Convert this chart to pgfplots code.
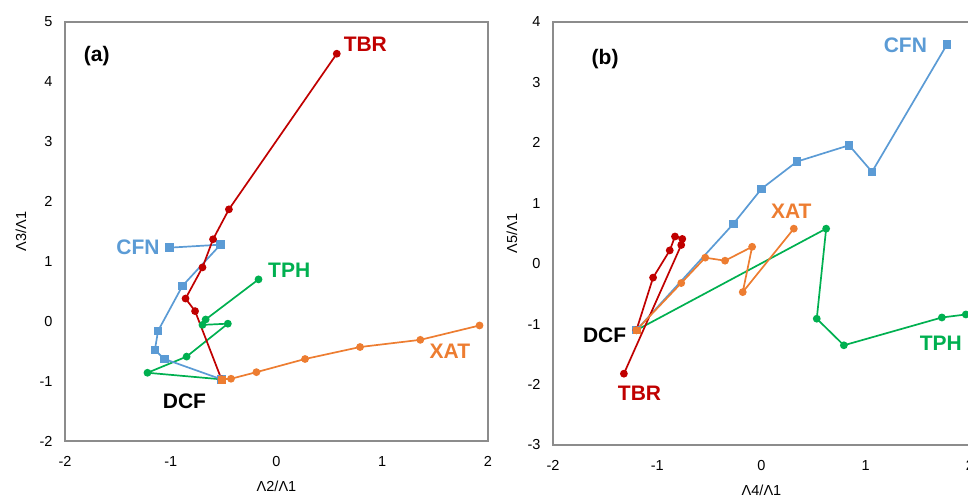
\documentclass[border=0pt]{standalone}
\usepackage{fontspec}
\setmainfont{Liberation Sans}
\usepackage{pgfplots}
\pgfplotsset{compat=1.18}

\definecolor{cfn}{HTML}{5B9BD5}
\definecolor{tbr}{HTML}{C00000}
\definecolor{tph}{HTML}{00B050}
\definecolor{xat}{HTML}{ED7D31}
\definecolor{frame}{HTML}{8C8C8C}

\pgfplotsset{
  panel/.style={
    scale only axis,
    axis line style={draw=frame, line width=1.2pt},
    major tick length=0pt,
    xmin=-2, xmax=2, xtick={-2,-1,0,1,2},
    /pgf/number format/assume math mode=true,
    tick label style={font=\fontsize{14.5}{16}\selectfont},
    xticklabel style={yshift=-12pt},
    yticklabel style={xshift=-9pt},
    label style={font=\fontsize{14.5}{16}\selectfont},
    xlabel style={at={(axis description cs:0.5,0)}, anchor=center, yshift=-45pt},
    clip=false,
  },
}
\tikzset{
  ser/.style={color=#1, line width=1.7pt, mark=*, mark size=3pt, mark options={solid, fill=#1}},
  sq/.style={color=#1, line width=1.7pt, mark=square*, mark size=3.4pt, mark options={solid, fill=#1}},
  lab/.style={font=\fontsize{21}{24}\selectfont\bfseries, text=#1},
}

\begin{document}
\begin{tikzpicture}

%%% (a) %%%
\begin{axis}[panel,
  at={(65pt,56pt)}, width=423pt, height=419pt,
  ymin=-2, ymax=5, ytick={-2,-1,0,1,2,3,4,5},
  xlabel={Λ2/Λ1}, ylabel={Λ3/Λ1},
  ylabel style={at={(axis description cs:0,0.5)}, anchor=center, yshift=44pt},
]
\addplot[ser=tph] coordinates {
  (-0.17,0.70) (-0.67,0.03) (-0.70,-0.06) (-0.46,-0.04) (-0.85,-0.59) (-1.22,-0.86) (-0.52,-0.97)
};
\addplot[sq=cfn] coordinates {
  (-1.01,1.23) (-0.53,1.28) (-0.89,0.59) (-1.12,-0.16) (-1.15,-0.48) (-1.06,-0.63) (-0.52,-0.97)
};
\addplot[ser=tbr] coordinates {
  (0.57,4.47) (-0.45,1.87) (-0.60,1.37) (-0.70,0.90) (-0.86,0.38) (-0.77,0.17) (-0.52,-0.97)
};
\addplot[ser=xat] coordinates {
  (-0.52,-0.97) (-0.43,-0.96) (-0.19,-0.85) (0.27,-0.63) (0.79,-0.43) (1.36,-0.31) (1.92,-0.07)
};
\addplot[only marks, mark=square*, mark size=3.4pt, color=xat] coordinates {(-0.52,-0.97)};

\node[lab=black] at (axis cs:-1.70,4.43) {(a)};
\node[lab=tbr] at (axis cs:0.84,4.63) {TBR};
\node[lab=cfn] at (axis cs:-1.31,1.23) {CFN};
\node[lab=tph] at (axis cs:0.12,0.86) {TPH};
\node[lab=xat] at (axis cs:1.64,-0.50) {XAT};
\node[lab=black] at (axis cs:-0.87,-1.33) {DCF};
\end{axis}

%%% (b) %%%
\begin{axis}[panel,
  at={(553pt,52pt)}, width=417pt, height=423pt,
  ymin=-3, ymax=4, ytick={-3,-2,-1,0,1,2,3,4},
  xlabel={Λ4/Λ1}, ylabel={Λ5/Λ1},
  ylabel style={at={(axis description cs:0,0.5)}, anchor=center, yshift=41pt},
]
\addplot[ser=tph] coordinates {
  (-1.20,-1.10) (0.62,0.58) (0.53,-0.91) (0.79,-1.35) (1.73,-0.89) (1.96,-0.84)
};
\addplot[sq=cfn] coordinates {
  (-1.20,-1.10) (-0.27,0.66) (0.00,1.24) (0.34,1.69) (0.84,1.96) (1.06,1.52) (1.78,3.63)
};
\addplot[ser=tbr] coordinates {
  (-1.20,-1.10) (-1.04,-0.23) (-0.88,0.22) (-0.83,0.45) (-0.76,0.41) (-0.77,0.31) (-1.32,-1.82)
};
\addplot[ser=xat] coordinates {
  (-1.20,-1.10) (-0.77,-0.32) (-0.54,0.10) (-0.35,0.05) (-0.09,0.28) (-0.18,-0.47) (0.31,0.58)
};
\addplot[only marks, mark=square*, mark size=3.4pt, color=xat] coordinates {(-1.20,-1.10)};

\node[lab=black] at (axis cs:-1.50,3.38) {(b)};
\node[lab=cfn] at (axis cs:1.38,3.62) {CFN};
\node[lab=xat] at (axis cs:0.285,0.87) {XAT};
\node[lab=tph] at (axis cs:1.72,-1.31) {TPH};
\node[lab=black] at (axis cs:-1.505,-1.19) {DCF};
\node[lab=tbr] at (axis cs:-1.17,-2.14) {TBR};
\end{axis}

\pgfresetboundingbox
\useasboundingbox (0pt,0pt) rectangle (968pt,497pt);
\end{tikzpicture}
\end{document}
